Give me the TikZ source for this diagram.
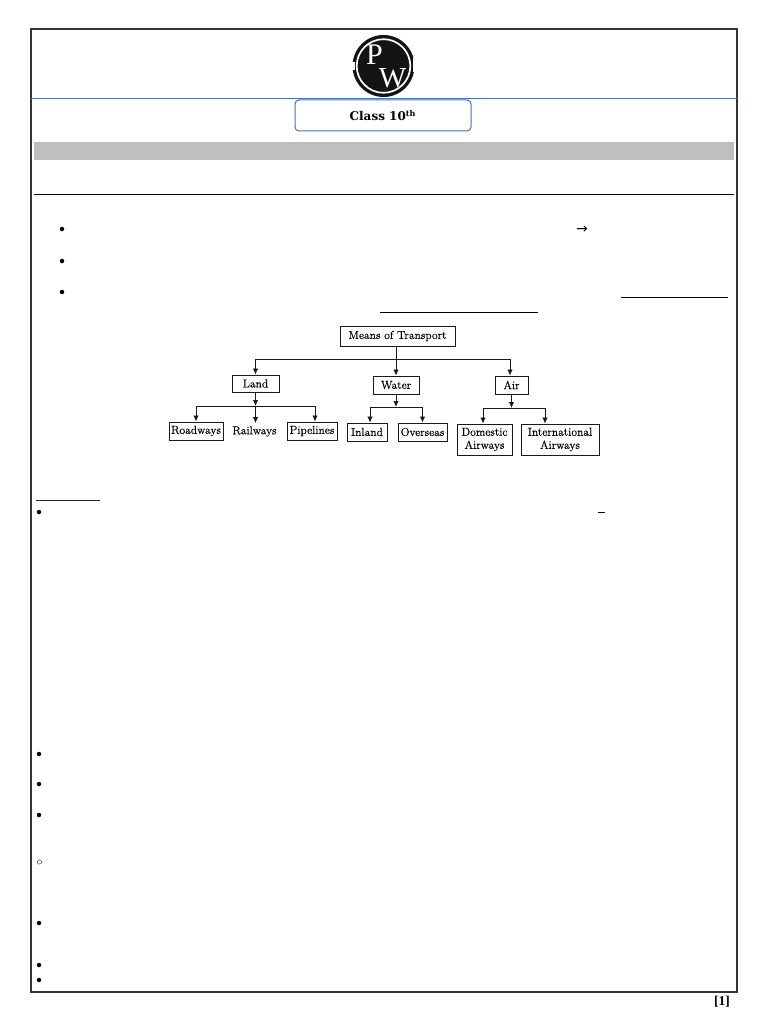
\documentclass[tikz,border=0pt]{standalone}
\usepackage{fontspec}
\usetikzlibrary{arrows.meta}
\newfontfamily\logofont{Liberation Serif}
\newfontfamily\headfont{DejaVu Serif}
\newfontfamily\chartfont[FakeBold=0.35]{Latin Modern Roman}
\newcommand{\px}[1]{\fontsize{#1}{#1}\selectfont}
\newcommand{\low}[1]{\raisebox{-1.6pt}{#1}}
\definecolor{pwblue}{HTML}{4472C4}
\tikzset{
  x=1pt,y=-1pt,
  frameline/.style={draw=black!80,line width=1.1pt},
  rulebox/.style={draw=black!90,line width=0.95pt,inner sep=0pt,align=center,font=\chartfont\px{11.6}},
  link/.style={draw=black!90,line width=0.85pt},
  tipped/.style={link,-{Latex[length=6pt,width=5.5pt]}},
  dotmark/.style={circle,fill=black,inner sep=0pt,minimum size=4.5pt},
  ringmark/.style={circle,draw=black!70,line width=0.5pt,inner sep=0pt,minimum size=4.2pt},
}
\begin{document}
\begin{tikzpicture}
\useasboundingbox (0,0) rectangle (768,1024);
\fill[white] (0,0) rectangle (768,1024);
% logo
\fill[black!92] (383.5,66) circle (31);
\draw[white,line width=1.7pt] (383.5,66) circle (26.8);
\fill[white] (351,62) rectangle (354.5,70);
\fill[white] (412.5,58) rectangle (416,72);
\node[text=white,inner sep=0pt,font=\logofont\px{30}] (logoP) at (374.5,54.5) {P};
\node[text=white,inner sep=0pt,font=\logofont\px{29}] (logoW) at (392.5,78.5) {W};
% frame and bars
\draw[frameline] (31,29) rectangle (737,992);
\draw[draw=pwblue,line width=0.8pt] (31,98.5) -- (737,98.5);
\node[draw=pwblue,line width=1pt,rounded corners=4pt,fill=white,minimum width=176pt,minimum height=31pt,inner sep=0pt] (classbox) at (383,115.5) {};
\node[font=\headfont\bfseries\px{12},anchor=center] (classtext) at (382.5,115.5) {Class 10\raisebox{3.5pt}{\px{8}th}};
\fill[black!25] (34,142) rectangle (734,160);
\draw[black,line width=0.8pt] (34,194.5) -- (734,194.5);
% bullets and marks
\foreach \n/\xx/\yy in {a/62/229,b/62/261,c/62/292,d/39/512,e/39/754,f/39/784,g/39/815,h/39/923,i/39/965,j/39/980}
  \node[dotmark] (b\n) at (\xx,\yy) {};
\node[ringmark] (bk) at (39.5,862) {};
\node[font=\fontspec{DejaVu Sans}\px{14}] (arrowmark) at (582,229.5) {→};
\draw[black,line width=0.8pt] (621,297) -- (728,297);
\draw[black,line width=0.8pt] (380,312.5) -- (538,312.5);
\draw[black!85,line width=1.3pt] (36,500.5) -- (100,500.5);
\draw[black,line width=0.8pt] (598,512) -- (605,512);
\node[font=\logofont\bfseries\px{13.5}] (pagemark) at (722,1002) {[1]};
% chart
\node[rulebox,minimum width=115pt,minimum height=20pt] (means) at (397.5,336) {\low{Means of Transport}};
\node[rulebox,minimum width=47pt,minimum height=17pt] (land) at (255.5,383.5) {\low{Land}};
\node[rulebox,minimum width=46pt,minimum height=18pt] (water) at (396,385) {\low{Water}};
\node[rulebox,minimum width=33pt,minimum height=18pt] (air) at (511.5,385) {\low{Air}};
\node[rulebox,minimum width=54pt,minimum height=18pt] (road) at (196,431) {\low{Roadways}};
\node[inner sep=0pt,font=\chartfont\px{11.6}] (rail) at (254.5,431.5) {Railways};
\node[rulebox,minimum width=50pt,minimum height=18pt] (pipe) at (312,431) {\low{Pipelines}};
\node[rulebox,minimum width=40pt,minimum height=18pt] (inland) at (367,432) {\low{Inland}};
\node[rulebox,minimum width=49pt,minimum height=18pt] (over) at (422.5,432) {\low{Overseas}};
\node[rulebox,minimum width=55pt,minimum height=31pt] (dom) at (484.5,439.5) {\low{Domestic}\\[1.5pt]\low{Airways}};
\node[rulebox,minimum width=78pt,minimum height=31pt] (intl) at (560,439.5) {\low{International}\\[1.5pt]\low{Airways}};
% bus junctions
\coordinate (top) at (396,359);
\coordinate (landbus) at (255.5,406);
\coordinate (waterbus) at (396,407);
\coordinate (airbus) at (511.5,408);
% connectors
\draw[tipped] (water.north |- means.south) -- (water.north);
\draw[tipped] (top) -| (land.north);
\draw[tipped] (top) -| ([xshift=-1.5pt]air.north);
\draw[tipped] (land.south) -- (landbus);
\draw[tipped] (water.south) -- (waterbus);
\draw[tipped] (air.south) -- (airbus);
\draw[tipped] (landbus) -| (road.north);
\draw[tipped] (landbus) -- ([yshift=3pt,xshift=1pt]rail.north);
\draw[tipped] (landbus) -| ([xshift=3pt]pipe.north);
\draw[tipped] (waterbus) -| ([xshift=3pt]inland.north);
\draw[tipped] (waterbus) -| (over.north);
\draw[tipped] (airbus) -| ([xshift=-1.5pt]dom.north);
\draw[tipped] (airbus) -| ([xshift=-15pt]intl.north);
\end{tikzpicture}
\end{document}
